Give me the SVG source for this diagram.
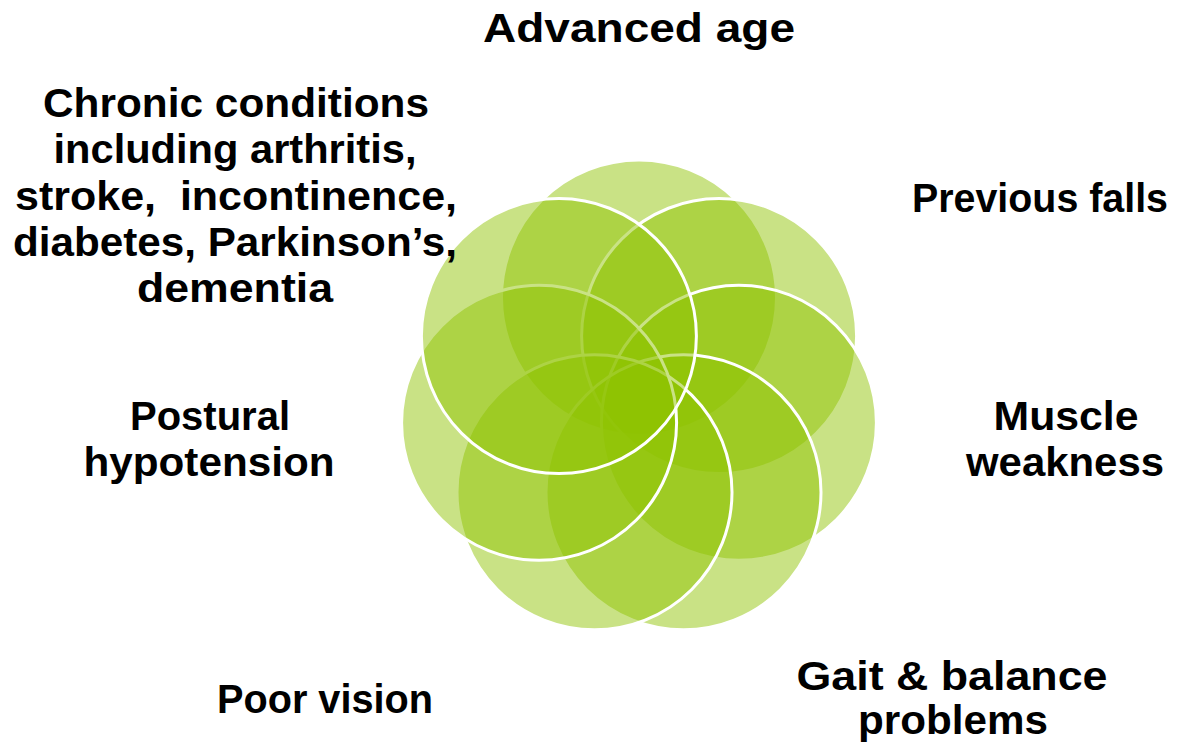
<svg xmlns="http://www.w3.org/2000/svg" width="1177" height="744" viewBox="0 0 1177 744">
  <style>
    .petal { fill: #8FC200; fill-opacity: 0.48; stroke: #FFFFFF; stroke-width: 3; }
    .lbl { font-family: "Liberation Sans", "DejaVu Sans", sans-serif; font-weight: bold; font-size: 41px; fill: #000000; text-anchor: middle; }
  </style>
  <rect width="1177" height="744" fill="#FFFFFF"/>

  <!-- overlapping circles, drawn clockwise from the top so each one covers the previous -->
  <g id="petals">
    <circle id="c-top" class="petal" cx="639" cy="297.5" r="137.5" stroke="none"/>
    <circle id="c-upper-right" class="petal" cx="719.1" cy="336.1" r="137.5"/>
    <circle id="c-right" class="petal" cx="738.9" cy="422.8" r="137.5"/>
    <circle id="c-lower-right" class="petal" cx="683.5" cy="492.3" r="137.5"/>
    <circle id="c-bottom" class="petal" cx="594.5" cy="492.3" r="137.5"/>
    <circle id="c-left" class="petal" cx="539.1" cy="422.8" r="137.5"/>
    <circle id="c-upper-left" class="petal" cx="558.9" cy="336.1" r="137.5"/>
  </g>

  <g id="label-advanced-age">
    <text class="lbl" x="639" y="42" textLength="312" lengthAdjust="spacingAndGlyphs">Advanced age</text>
  </g>
  <g id="label-previous-falls">
    <text class="lbl" x="1040" y="212" textLength="256" lengthAdjust="spacingAndGlyphs">Previous falls</text>
  </g>
  <g id="label-muscle-weakness">
    <text class="lbl" x="1066" y="430" textLength="145" lengthAdjust="spacingAndGlyphs">Muscle</text>
    <text class="lbl" x="1065" y="476" textLength="198" lengthAdjust="spacingAndGlyphs">weakness</text>
  </g>
  <g id="label-gait-balance">
    <text class="lbl" x="952" y="690" textLength="311" lengthAdjust="spacingAndGlyphs">Gait &amp; balance</text>
    <text class="lbl" x="953" y="734" textLength="190" lengthAdjust="spacingAndGlyphs">problems</text>
  </g>
  <g id="label-poor-vision">
    <text class="lbl" x="325" y="713" textLength="216" lengthAdjust="spacingAndGlyphs">Poor vision</text>
  </g>
  <g id="label-postural-hypotension">
    <text class="lbl" x="210" y="430" textLength="160" lengthAdjust="spacingAndGlyphs">Postural</text>
    <text class="lbl" x="209" y="476" textLength="251" lengthAdjust="spacingAndGlyphs">hypotension</text>
  </g>
  <g id="label-chronic-conditions">
    <text class="lbl" x="236" y="117" textLength="386" lengthAdjust="spacingAndGlyphs">Chronic conditions</text>
    <text class="lbl" x="235" y="163" textLength="363" lengthAdjust="spacingAndGlyphs">including arthritis,</text>
    <text class="lbl" x="236" y="210" textLength="442" lengthAdjust="spacingAndGlyphs" xml:space="preserve">stroke,  incontinence,</text>
    <text class="lbl" x="235" y="256" textLength="444" lengthAdjust="spacingAndGlyphs">diabetes, Parkinson’s,</text>
    <text class="lbl" x="235" y="302" textLength="196" lengthAdjust="spacingAndGlyphs">dementia</text>
  </g>
</svg>
